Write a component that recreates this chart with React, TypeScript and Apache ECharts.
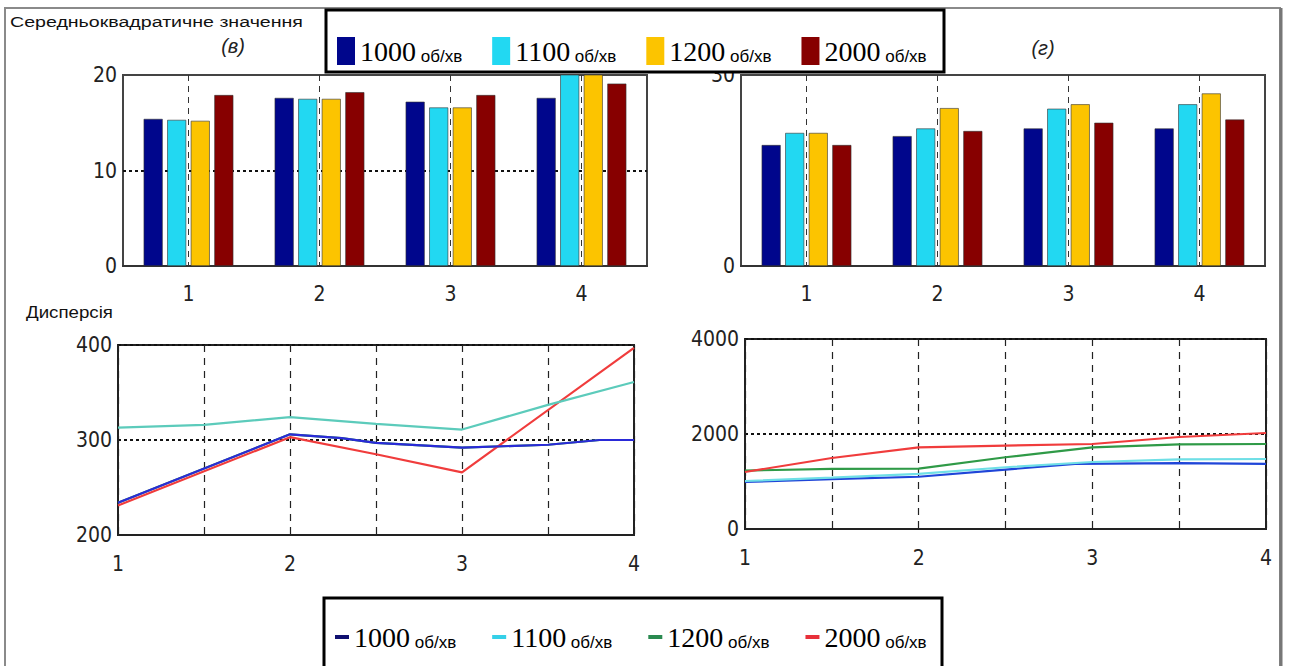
import React, { useEffect, useRef } from 'react';
import * as echarts from 'echarts';

// ---------- data ----------
const categories = ['1', '2', '3', '4'];
const speeds = ['1000', '1100', '1200', '2000'];
const unitLabel = 'об/хв';
const rmsVGuide = 10; // dotted guide on chart (в)

// RMS values, chart (в)
const rmsV1000 = [15.4, 17.6, 17.2, 17.6];
const rmsV1100 = [15.3, 17.5, 16.6, 21.0];
const rmsV1200 = [15.2, 17.5, 16.6, 21.5];
const rmsV2000 = [17.9, 18.2, 17.9, 19.1];

// RMS values, chart (г)
const rmsG1000 = [19.0, 20.4, 21.6, 21.6];
const rmsG1100 = [20.9, 21.6, 24.7, 25.4];
const rmsG1200 = [20.9, 24.8, 25.4, 27.1];
const rmsG2000 = [19.0, 21.2, 22.5, 23.0];

// Variance, chart (в) — [x, value]
const dispV1000 = [[1, 234], [2, 306], [2.3, 302], [2.5, 297], [3, 292], [3.5, 295], [3.8, 300], [4, 300]];
const dispV1100 = [[1, 313], [1.5, 316], [2, 324], [2.5, 317], [3, 311], [3.5, 337], [4, 361]];
const dispV1200 = [[1, 234], [2, 306], [2.3, 302], [2.5, 297], [3, 292], [3.5, 295], [3.8, 300], [4, 300]];
const dispV2000 = [[1, 231], [2, 303], [2.5, 285], [3, 266], [4, 397]];

// Variance, chart (г) — [x, value]
const dispG1000 = [[1, 990], [1.5, 1050], [2, 1100], [2.5, 1250], [2.9, 1370], [3.5, 1385], [4, 1370]];
const dispG1100 = [[1, 1010], [1.5, 1080], [2, 1160], [2.5, 1300], [3, 1410], [3.5, 1465], [4, 1474]];
const dispG1200 = [[1, 1230], [1.5, 1265], [2, 1270], [2.5, 1510], [3, 1720], [3.5, 1780], [4, 1790]];
const dispG2000 = [[1, 1200], [1.5, 1495], [2, 1720], [2.5, 1756], [3, 1790], [3.5, 1937], [4, 2021]];

const barColors = ['#00068c', '#22d8f2', '#fcc400', '#870000'];
const lineColorsV = ['#2a2ad8', '#5ccbbb', '#2f9a47', '#f03c3c'];
const lineColorsG = ['#1f45d8', '#6fdfe6', '#2f9a47', '#f03c3c'];
const legendLineColors = ['#101070', '#35d0e8', '#2a8a50', '#e8303a'];

const narrow = '"Liberation Sans Narrow", "DejaVu Sans Condensed", "Liberation Sans", sans-serif';
const sans = '"Liberation Sans", Arial, sans-serif';
const serif = '"Liberation Serif", "Times New Roman", serif';

export default function App() {
  const ref = useRef<HTMLDivElement>(null);

  useEffect(() => {
    if (!ref.current) return;
    const chart = echarts.init(ref.current, null, { renderer: 'svg' });

    const axisLabelStyle = { fontFamily: narrow, fontSize: 21, color: '#222' };
    const dotted = { color: '#111', type: [3, 3], width: 2 };

    const barX = (gi: number) => ({
      type: 'category',
      gridIndex: gi,
      data: categories,
      axisLine: { lineStyle: { color: '#333', width: 2 } },
      axisTick: { show: false },
      axisLabel: { ...axisLabelStyle, margin: 17 },
      splitLine: { show: true, alignWithLabel: true, lineStyle: { color: '#333', type: [6, 5], width: 1 } },
    });

    const lineX = (gi: number) => ({
      type: 'value',
      gridIndex: gi,
      min: 1,
      max: 4,
      interval: 0.5,
      axisLine: { lineStyle: { color: '#222', width: 2 } },
      axisTick: { show: false },
      axisLabel: {
        ...axisLabelStyle,
        margin: 18,
        formatter: (v: number) => (Number.isInteger(v) ? String(v) : ''),
      },
      splitLine: { show: true, lineStyle: { color: '#222', type: [7, 6], width: 1.2 } },
    });

    const yAx = (gi: number, min: number, max: number, interval: number, showSplit: boolean, extraLabel = {}) => ({
      type: 'value',
      gridIndex: gi,
      min,
      max,
      interval,
      axisLine: { show: false },
      axisTick: { show: false },
      axisLabel: { ...axisLabelStyle, margin: 6, formatter: (v: number) => String(v), ...extraLabel },
      splitLine: { show: showSplit, lineStyle: dotted },
    });

    const bars = (gi: number, arrays: number[][], guide?: number) =>
      arrays.map((d, i) => ({
        type: 'bar',
        name: speeds[i],
        xAxisIndex: gi,
        yAxisIndex: gi,
        data: d,
        barWidth: 19,
        barGap: '24%',
        z: 3,
        itemStyle: { color: barColors[i], borderColor: '#333', borderWidth: 0.6 },
        ...(guide !== undefined && i === 0
          ? {
              markLine: {
                silent: true,
                z: 1,
                symbol: ['none', 'none'],
                label: { show: false },
                lineStyle: dotted,
                data: [{ yAxis: guide }],
              },
            }
          : {}),
      }));

    const lines = (gi: number, arrays: number[][][], colors: string[], order: number[]) =>
      order.map((i) => ({
        type: 'line',
        name: speeds[i],
        xAxisIndex: gi,
        yAxisIndex: gi,
        data: arrays[i],
        showSymbol: false,
        z: 3,
        lineStyle: { color: colors[i], width: 2.2 },
        itemStyle: { color: colors[i] },
      }));

    const legendRich = {
      n: { fontFamily: serif, fontSize: 28, color: '#000', lineHeight: 28 },
      u: { fontFamily: sans, fontSize: 17, color: '#000', lineHeight: 28, verticalAlign: 'bottom' },
    };

    const option: any = {
      animation: false,
      backgroundColor: '#fff',
      textStyle: { fontFamily: sans },
      grid: [
        { left: 123, top: 75, width: 524, height: 191, show: true, borderColor: '#444', borderWidth: 2 },
        { left: 741, top: 75, width: 524, height: 191, show: true, borderColor: '#444', borderWidth: 2 },
        { left: 118, top: 345, width: 516, height: 190, show: true, borderColor: '#222', borderWidth: 2 },
        { left: 745, top: 339, width: 521, height: 190, show: true, borderColor: '#222', borderWidth: 2 },
      ],
      xAxis: [barX(0), barX(1), lineX(2), lineX(3)],
      yAxis: [
        yAx(0, 0, 20, 10, false),
        yAx(1, 0, 30, 30, false, { padding: [6, 0, 0, 0] }),
        yAx(2, 200, 400, 100, true),
        yAx(3, 0, 4000, 2000, true),
      ],
      legend: [
        {
          left: 332,
          top: 32,
          itemWidth: 18,
          itemHeight: 28,
          itemGap: 30,
          icon: 'rect',
          selectedMode: false,
          z: 20,
          data: speeds.map((s, i) => ({ name: s, itemStyle: { color: barColors[i], borderWidth: 0 } })),
          formatter: (n: string) => `{n|${n}}{u| ${unitLabel}}`,
          textStyle: { rich: legendRich },
        },
        {
          left: 330,
          top: 618,
          itemWidth: 14,
          itemHeight: 4,
          itemGap: 36,
          icon: 'rect',
          selectedMode: false,
          z: 20,
          data: speeds.map((s, i) => ({ name: s, itemStyle: { color: legendLineColors[i], borderWidth: 0 } })),
          formatter: (n: string) => `{n|${n}}{u| ${unitLabel}}`,
          textStyle: { rich: legendRich },
        },
      ],
      graphic: {
        elements: [
          {
            type: 'rect',
            z: -1,
            shape: { x: 5, y: 8, width: 1275, height: 700 },
            style: { fill: 'none', stroke: '#8a8a8a', lineWidth: 2 },
          },
          {
            type: 'line',
            z: -1,
            shape: { x1: 1281, y1: 8, x2: 1281, y2: 666 },
            style: { stroke: '#777', lineWidth: 3 },
          },
          {
            type: 'rect',
            z: 10,
            shape: { x: 326, y: 10, width: 618, height: 62 },
            style: { fill: '#fff', stroke: '#000', lineWidth: 3 },
          },
          {
            type: 'rect',
            z: 10,
            shape: { x: 324, y: 598, width: 618, height: 90 },
            style: { fill: '#fff', stroke: '#000', lineWidth: 3 },
          },
          {
            type: 'text',
            z: 12,
            x: 10,
            y: 22,
            scaleX: 1.4,
            style: {
              text: 'Середньоквадратичне значення',
              fontFamily: sans,
              fontSize: 14,
              fill: '#111',
              verticalAlign: 'middle',
            },
          },
          {
            type: 'text',
            z: 12,
            x: 233,
            y: 46,
            style: {
              text: '(в)',
              fontFamily: sans,
              fontSize: 20,
              fontStyle: 'italic',
              fill: '#222',
              align: 'center',
              verticalAlign: 'middle',
            },
          },
          {
            type: 'text',
            z: 12,
            x: 1043,
            y: 48,
            style: {
              text: '(г)',
              fontFamily: sans,
              fontSize: 20,
              fontStyle: 'italic',
              fill: '#222',
              align: 'center',
              verticalAlign: 'middle',
            },
          },
          {
            type: 'text',
            z: 12,
            x: 26,
            y: 312,
            scaleX: 1.1,
            style: {
              text: 'Дисперсія',
              fontFamily: sans,
              fontSize: 17,
              fill: '#111',
              verticalAlign: 'middle',
            },
          },
        ],
      },
      series: [
        ...bars(0, [rmsV1000, rmsV1100, rmsV1200, rmsV2000], rmsVGuide),
        ...bars(1, [rmsG1000, rmsG1100, rmsG1200, rmsG2000]),
        ...lines(2, [dispV1000, dispV1100, dispV1200, dispV2000], lineColorsV, [2, 3, 0, 1]),
        ...lines(3, [dispG1000, dispG1100, dispG1200, dispG2000], lineColorsG, [0, 1, 2, 3]),
      ],
    };

    chart.setOption(option);
    return () => chart.dispose();
  }, []);

  return (
    <div
      ref={ref}
      style={{ position: 'absolute', left: 0, top: 0, width: 1291, height: 666, background: '#fff' }}
    />
  );
}
